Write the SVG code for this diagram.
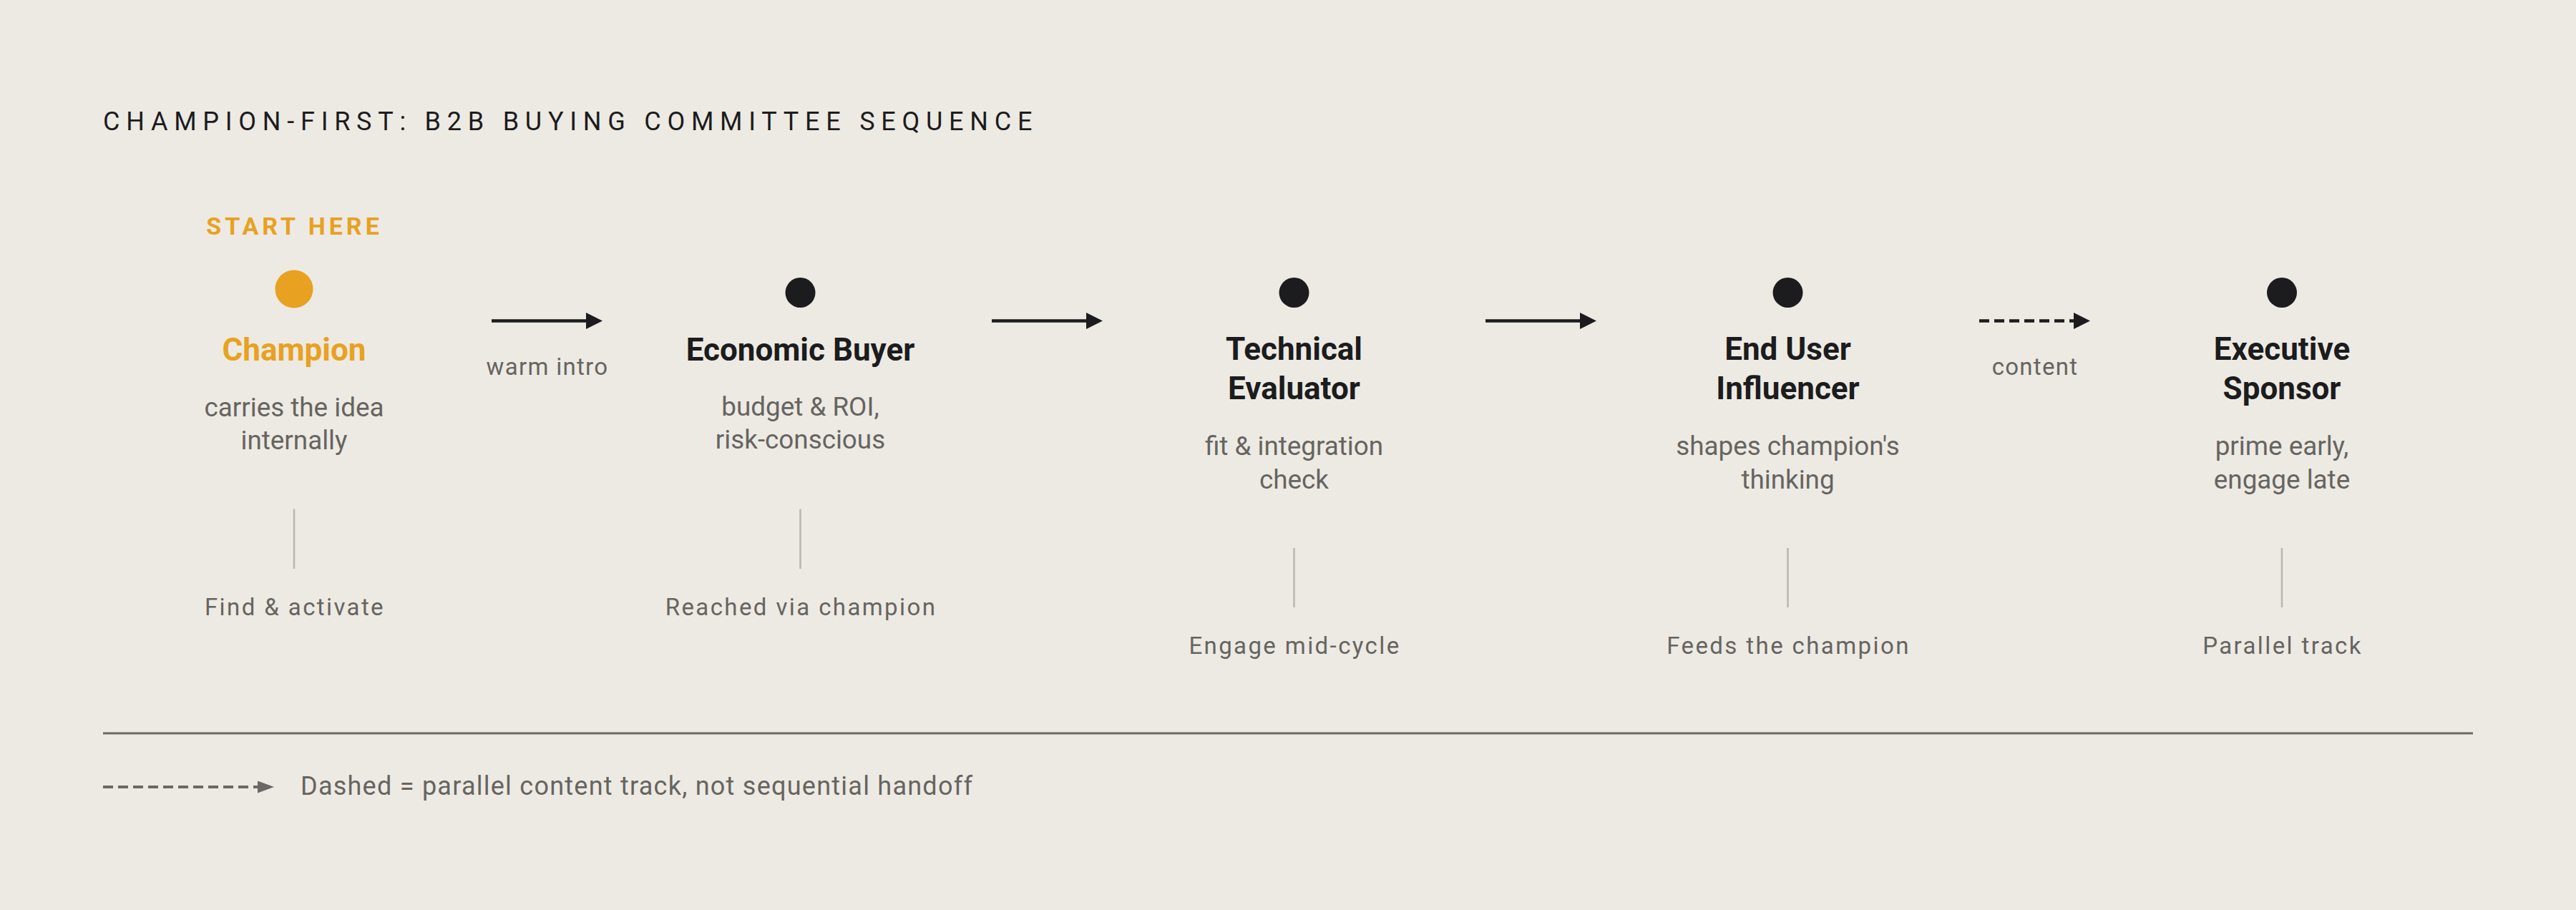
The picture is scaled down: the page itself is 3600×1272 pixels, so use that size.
<svg xmlns="http://www.w3.org/2000/svg" width="3600" height="1272" viewBox="0 0 3600 1272">
  <style>
    text { font-family: Roboto, "Liberation Sans", sans-serif; }
    .title { font-size: 36px; font-weight: 400; letter-spacing: 8.75px; fill: #1c1c1e; }
    .start { font-size: 34px; font-weight: 700; letter-spacing: 5px; fill: #e8a121; text-anchor: middle; }
    .name { font-size: 44px; font-weight: 700; fill: #1c1c1e; text-anchor: middle; }
    .name.champ { fill: #e8a121; }
    .desc { font-size: 36.8px; font-weight: 400; fill: #666461; text-anchor: middle; }
    .label { font-size: 33px; font-weight: 400; letter-spacing: 2.4px; fill: #666461; text-anchor: middle; }
    .alabel { font-size: 33px; font-weight: 400; letter-spacing: 1.3px; fill: #666461; text-anchor: middle; }
    .legend { font-size: 36px; font-weight: 400; letter-spacing: 1.25px; fill: #666461; }
    .dot { fill: #1c1c1e; }
    .dot.champ { fill: #e8a121; }
    .tick { stroke: #b9b6af; stroke-width: 2.5; }
    .arrow { stroke: #1c1c1e; stroke-width: 4.5; fill: none; }
    .dashed { stroke-dasharray: 14 7; }
    .rule { stroke: #6b6865; stroke-width: 3; }
    .legend-line { stroke: #6b6865; stroke-width: 4; stroke-dasharray: 14 7; fill: none; }
  </style>
  <defs>
    <marker id="head" markerUnits="userSpaceOnUse" viewBox="0 0 23 23" markerWidth="23" markerHeight="23" refX="0" refY="11.5" orient="auto">
      <path d="M0,0 L23,11.5 L0,23 Z" fill="#1c1c1e"/>
    </marker>
    <marker id="head-legend" markerUnits="userSpaceOnUse" viewBox="0 0 23 17" markerWidth="23" markerHeight="17" refX="0" refY="8.5" orient="auto">
      <path d="M0,0 L23,8.5 L0,17 Z" fill="#6b6865"/>
    </marker>
  </defs>

  <rect x="0" y="0" width="3600" height="1272" fill="#edeae3"/>

  <text class="title" x="144" y="181.5">CHAMPION-FIRST: B2B BUYING COMMITTEE SEQUENCE</text>

  <g id="connectors">
    <line class="arrow" x1="687" y1="448.5" x2="819" y2="448.5" marker-end="url(#head)"/>
    <text class="alabel" x="765" y="523.5">warm intro</text>
    <line class="arrow" x1="1386" y1="448.5" x2="1518" y2="448.5" marker-end="url(#head)"/>
    <line class="arrow" x1="2076" y1="448.5" x2="2208" y2="448.5" marker-end="url(#head)"/>
    <line class="arrow dashed" x1="2766" y1="448.5" x2="2898" y2="448.5" marker-end="url(#head)"/>
    <text class="alabel" x="2844" y="523.5">content</text>
  </g>

  <g id="node-champion">
    <text class="start" x="411.5" y="328">START HERE</text>
    <circle class="dot champ" cx="411" cy="404" r="26.5"/>
    <text class="name champ" x="411" y="503.5">Champion</text>
    <text class="desc" x="411" y="581.5">carries the idea</text>
    <text class="desc" x="411" y="628">internally</text>
    <line class="tick" x1="411" y1="711.5" x2="411" y2="795"/>
    <text class="label" x="412" y="859.5">Find &amp; activate</text>
  </g>

  <g id="node-economic-buyer">
    <circle class="dot" cx="1118.5" cy="409" r="21"/>
    <text class="name" x="1118.5" y="503.5">Economic Buyer</text>
    <text class="desc" x="1118.5" y="580.5">budget &amp; ROI,</text>
    <text class="desc" x="1118.5" y="627">risk-conscious</text>
    <line class="tick" x1="1118.5" y1="711.5" x2="1118.5" y2="795"/>
    <text class="label" x="1119.5" y="859.5">Reached via champion</text>
  </g>

  <g id="node-technical-evaluator">
    <circle class="dot" cx="1808.5" cy="409" r="21"/>
    <text class="name" x="1808.5" y="502.5">Technical</text>
    <text class="name" x="1808.5" y="557.5">Evaluator</text>
    <text class="desc" x="1808.5" y="636">fit &amp; integration</text>
    <text class="desc" x="1808.5" y="683">check</text>
    <line class="tick" x1="1808.5" y1="766" x2="1808.5" y2="849"/>
    <text class="label" x="1809.5" y="914">Engage mid-cycle</text>
  </g>

  <g id="node-end-user-influencer">
    <circle class="dot" cx="2498.5" cy="409" r="21"/>
    <text class="name" x="2498.5" y="502.5">End User</text>
    <text class="name" x="2498.5" y="557.5">Influencer</text>
    <text class="desc" x="2498.5" y="636">shapes champion's</text>
    <text class="desc" x="2498.5" y="683">thinking</text>
    <line class="tick" x1="2498.5" y1="766" x2="2498.5" y2="849"/>
    <text class="label" x="2499.5" y="914">Feeds the champion</text>
  </g>

  <g id="node-executive-sponsor">
    <circle class="dot" cx="3189" cy="409" r="21"/>
    <text class="name" x="3189" y="502.5">Executive</text>
    <text class="name" x="3189" y="557.5">Sponsor</text>
    <text class="desc" x="3189" y="636">prime early,</text>
    <text class="desc" x="3189" y="683">engage late</text>
    <line class="tick" x1="3189" y1="766" x2="3189" y2="849"/>
    <text class="label" x="3190" y="914">Parallel track</text>
  </g>

  <g id="legend">
    <line class="rule" x1="144" y1="1025" x2="3456" y2="1025"/>
    <line class="legend-line" x1="144" y1="1100" x2="360" y2="1100" marker-end="url(#head-legend)"/>
    <text class="legend" x="420" y="1110.5">Dashed = parallel content track, not sequential handoff</text>
  </g>
</svg>
